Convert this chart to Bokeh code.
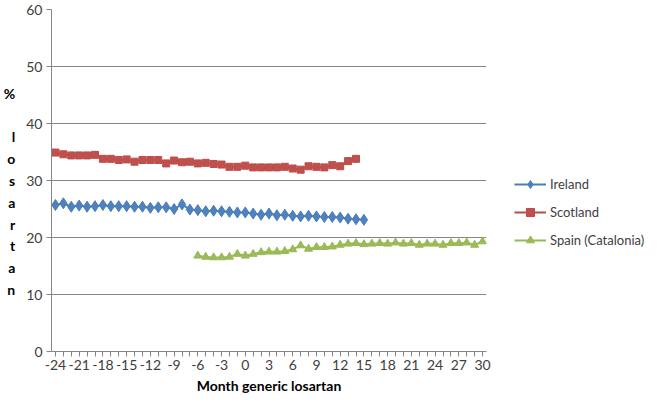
from bokeh.plotting import figure
from bokeh.layouts import row
from bokeh.models import (FixedTicker, Legend, LegendItem, Range1d)
from bokeh.embed import file_html
from bokeh.resources import INLINE

# ---- data ----
ireland_months = list(range(-24, 16))
ireland = [25.7, 26.0, 25.4, 25.6, 25.4, 25.5, 25.7, 25.5, 25.5, 25.5,
           25.4, 25.4, 25.2, 25.3, 25.3, 25.0, 25.8, 24.9, 24.8, 24.6,
           24.7, 24.6, 24.5, 24.4, 24.4, 24.2, 24.0, 24.2, 23.9, 24.0,
           23.8, 23.7, 23.8, 23.7, 23.6, 23.6, 23.5, 23.3, 23.2, 23.1]

scotland_months = list(range(-24, 15))
scotland = [34.9, 34.6, 34.4, 34.4, 34.4, 34.5, 33.8, 33.8, 33.6, 33.7,
            33.3, 33.6, 33.6, 33.6, 33.0, 33.5, 33.2, 33.3, 33.0, 33.1,
            32.9, 32.8, 32.4, 32.4, 32.6, 32.3, 32.3, 32.3, 32.3, 32.4,
            32.1, 31.9, 32.5, 32.4, 32.3, 32.7, 32.5, 33.4, 33.8]

spain_months = list(range(-6, 31))
spain = [16.8, 16.6, 16.5, 16.5, 16.6, 17.1, 16.8, 17.1, 17.4, 17.5,
         17.5, 17.6, 17.9, 18.6, 18.0, 18.3, 18.3, 18.4, 18.7, 18.9,
         19.0, 18.8, 18.9, 19.0, 18.9, 19.1, 18.9, 19.0, 18.7, 18.9,
         18.9, 18.7, 19.0, 19.0, 19.1, 18.7, 19.3]

series_names = ["Ireland", "Scotland", "Spain (Catalonia)"]
all_months = list(range(-24, 31))
x_tick_labels = list(range(-24, 31, 3))
y_ticks = [0, 10, 20, 30, 40, 50, 60]
y_label_letters = ["", "%", "", "l", "o", "s", "a", "r", "t", "a", "n"]

FONT = "Lato"
GRID = "#868686"
LINE_COLORS = ["#4A7EBB", "#BE4B48", "#98B954"]
FILL_COLORS = ["#4F81BD", "#C0504D", "#9BBB59"]
MARKERS = ["diamond", "square", "triangle"]
SIZES = [11, 7, 8]

p = figure(width=494, height=396, output_backend="svg", toolbar_location=None,
           x_range=Range1d(-24.5, 30.5), y_range=Range1d(0, 60),
           min_border_left=43, min_border_right=8, min_border_top=9,
           min_border_bottom=40)
p.outline_line_color = None
p.background_fill_color = "white"
p.border_fill_color = "white"

# grid
p.xgrid.grid_line_color = None
p.ygrid.grid_line_color = GRID
p.ygrid.grid_line_width = 1

# x axis: a tick at every month, label every third month
p.xaxis.ticker = FixedTicker(ticks=all_months, minor_ticks=[])
p.xaxis.major_label_overrides = {
    m: (str(m) if m in x_tick_labels else "") for m in all_months}
p.xaxis.major_tick_out = 5
p.xaxis.major_tick_in = 0
p.xaxis.major_tick_line_color = GRID
p.xaxis.axis_line_color = GRID
p.xaxis.major_label_text_font = FONT
p.xaxis.major_label_text_font_size = "14px"
p.xaxis.major_label_text_color = "#404040"
p.xaxis.major_label_standoff = 3
p.xaxis.axis_label = "Month generic losartan"
p.xaxis.axis_label_text_font = FONT
p.xaxis.axis_label_text_font_style = "bold"
p.xaxis.axis_label_text_font_size = "14px"
p.xaxis.axis_label_text_color = "#000000"
p.xaxis.axis_label_standoff = 4

# y axis
p.yaxis.ticker = FixedTicker(ticks=y_ticks, minor_ticks=[])
p.yaxis.major_tick_out = 5
p.yaxis.major_tick_in = 0
p.yaxis.major_tick_line_color = GRID
p.yaxis.axis_line_color = GRID
p.yaxis.major_label_text_font = FONT
p.yaxis.major_label_text_font_size = "14px"
p.yaxis.major_label_text_color = "#404040"
p.yaxis.major_label_standoff = 4
p.yaxis.axis_label = "\n".join(y_label_letters)
p.yaxis.axis_label_orientation = "horizontal"
p.yaxis.axis_label_text_font = FONT
p.yaxis.axis_label_text_font_style = "bold"
p.yaxis.axis_label_text_font_size = "14px"
p.yaxis.axis_label_text_color = "#000000"
p.yaxis.axis_label_text_line_height = 1.28
p.yaxis.axis_label_text_align = "center"
p.yaxis.axis_label_standoff = 8

series_months = [ireland_months, scotland_months, spain_months]
series_vals = [ireland, scotland, spain]

# series
for months, vals, lc, fc, mk, sz in zip(series_months, series_vals,
                                        LINE_COLORS, FILL_COLORS, MARKERS,
                                        SIZES):
    p.line(months, vals, line_color=lc, line_width=2)
    p.scatter(months, vals, marker=mk, size=sz, fill_color=fc, line_color=lc)

# legend panel: a small figure (no axes) whose view lies away from the data,
# so only its legend shows
lf = figure(width=154, height=396, output_backend="svg", toolbar_location=None,
            x_range=Range1d(1000, 1001), y_range=Range1d(1000, 1001),
            x_axis_location=None, y_axis_location=None,
            min_border_left=0, min_border_right=0, min_border_top=0,
            min_border_bottom=0)
lf.grid.visible = False
lf.outline_line_color = None
items = []
for name, months, vals, lc, fc, mk, sz in zip(series_names, series_months,
                                              series_vals, LINE_COLORS,
                                              FILL_COLORS, MARKERS, SIZES):
    rl = lf.line(months, vals, line_color=lc, line_width=2)
    rm = lf.scatter(months, vals, marker=mk, size=sz * 0.8, fill_color=fc,
                    line_color=lc)
    items.append(LegendItem(label=name, renderers=[rl, rm]))
legend = Legend(items=items, location=(20, 101), padding=0, margin=0,
                spacing=8, glyph_width=32, glyph_height=20, label_height=20,
                label_standoff=4, label_text_font=FONT,
                label_text_font_size="13px", label_text_color="#404040",
                border_line_color=None, background_fill_alpha=0)
lf.add_layout(legend, "center")

layout = row(p, lf, spacing=0)
open("out.html", "w").write(file_html(layout, INLINE))
